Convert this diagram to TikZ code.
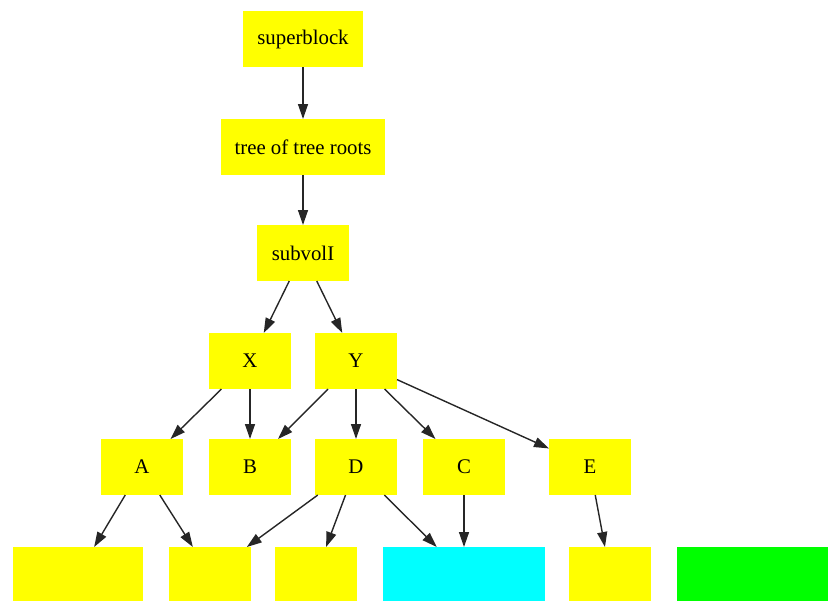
\documentclass[tikz,border=0pt]{standalone}
\usepackage{fontspec}
\setmainfont{Liberation Serif}
\usetikzlibrary{arrows.meta}
\definecolor{gvyellow}{RGB}{255,255,0}
\definecolor{gvcyan}{RGB}{0,255,255}
\definecolor{gvgreen}{RGB}{0,255,0}
\begin{document}
\begin{tikzpicture}[x=0.5pt,y=-0.5pt,
  box/.style={fill=gvyellow, draw=none, inner sep=0pt, outer sep=0pt,
    minimum width=41pt, minimum height=28pt, font=\fontsize{10.4}{12}\selectfont},
  leaf/.style={box, minimum height=27pt},
  edge/.style={draw=black!85, line width=0.7pt, -{Triangle[length=7.5pt,width=5pt]}}]
\useasboundingbox (0,0) rectangle (828,601);
\node[box, minimum width=60pt] (sb) at (303,39) {superblock};
\node[box, minimum width=82pt] (tr) at (303,147) {tree of tree roots};
\node[box, minimum width=46pt] (sv) at (303,253) {subvolI};
\node[box] (X) at (250,361) {X};
\node[box] (Y) at (356,361) {Y};
\node[box] (A) at (142,467) {A};
\node[box] (B) at (250,467) {B};
\node[box] (D) at (356,467) {D};
\node[box] (C) at (464,467) {C};
\node[box] (E) at (590,467) {E};
\node[leaf, minimum width=65pt] (l1) at (78,574) {};
\node[leaf] (l2) at (210,574) {};
\node[leaf] (l3) at (316,574) {};
\node[leaf, fill=gvcyan, minimum width=81pt] (l4) at (464,574) {};
\node[leaf] (l5) at (610,574) {};
\node[leaf, fill=gvgreen, minimum width=75.5pt] (l6) at (752.5,574) {};
\draw[edge] (sb) -- (tr);
\draw[edge] (tr) -- (sv);
\draw[edge] (sv) -- (X);
\draw[edge] (sv) -- (Y);
\draw[edge] (X) -- (A);
\draw[edge] (X) -- (B);
\draw[edge] (Y) -- (B);
\draw[edge] (Y) -- (D);
\draw[edge] (Y) -- (C);
\draw[edge] (Y) -- (E);
\draw[edge] (A) -- (l1);
\draw[edge] (A) -- (l2);
\draw[edge] (D) -- (l2);
\draw[edge] (D) -- (l3);
\draw[edge] (D) -- (l4);
\draw[edge] (C) -- (l4);
\draw[edge] (E) -- (l5);
\end{tikzpicture}
\end{document}
